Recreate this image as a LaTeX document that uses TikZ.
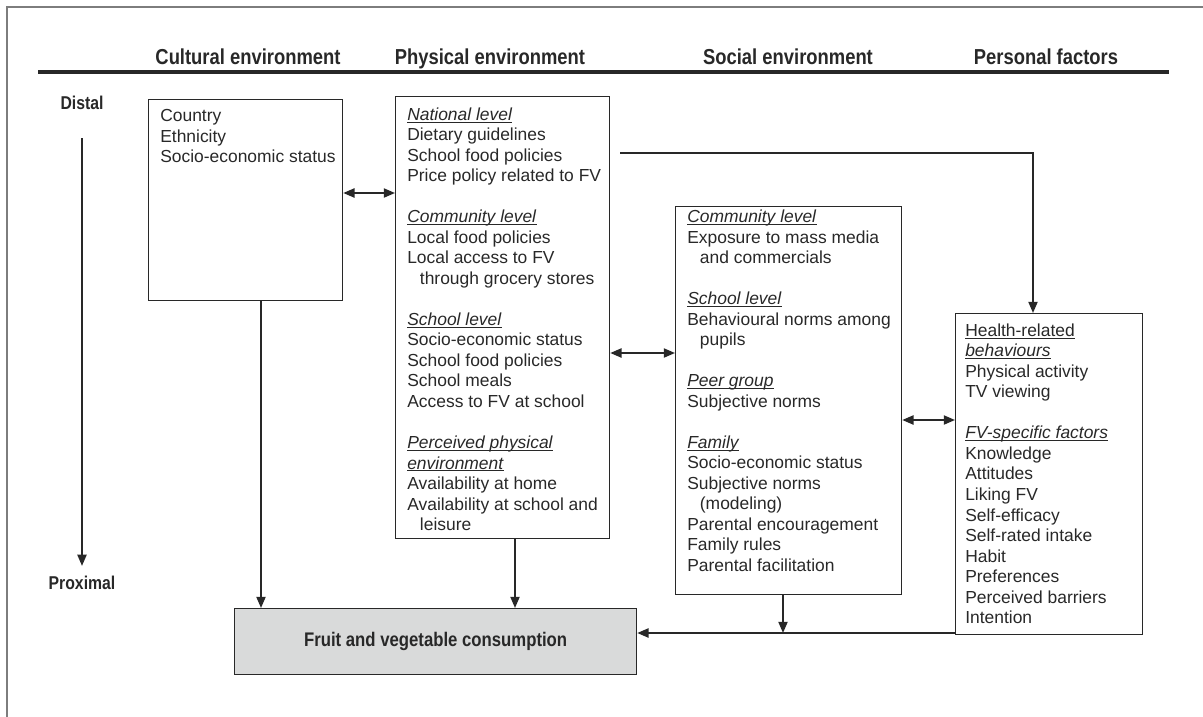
\documentclass[tikz,border=0pt]{standalone}
\usepackage{fontspec}
\setmainfont{Liberation Sans}
\newfontfamily\condfont[FakeStretch=0.85]{Liberation Sans}
\definecolor{inkGray}{RGB}{40, 40, 40}
\definecolor{frameGray}{RGB}{125, 125, 125}
\definecolor{outcomeGray}{RGB}{217, 218, 218}
\usetikzlibrary{arrows.meta,positioning,calc}
\newsavebox\lvlbox
\newcommand{\ulbar}[1]{\sbox\lvlbox{#1}\rlap{\rule[-1.6pt]{\wd\lvlbox}{0.6pt}}\usebox\lvlbox}
\newcommand{\lvl}[1]{\ulbar{\textit{#1}}}

\begin{document}
\begin{tikzpicture}[
        heading/.style={font=\condfont\bfseries\fontsize{15.4}{18}\selectfont,text=inkGray,inner sep=0pt,anchor=base},
        axislabel/.style={font=\condfont\bfseries\fontsize{13.2}{15}\selectfont,text=inkGray,inner sep=0pt},
        factorbox/.style={draw=inkGray,line width=0.9pt,anchor=north west,inner sep=0pt},
        factortext/.style={anchor=north west,align=left,inner sep=0pt,text=inkGray,
                        font=\fontsize{12.4}{14.6}\selectfont},
        link/.style={draw=inkGray,line width=1.3pt,-{Triangle[length=8pt,width=6.5pt]}},
        duallink/.style={draw=inkGray,line width=1.3pt,
                        {Triangle[length=8pt,width=6.5pt]}-{Triangle[length=8pt,width=6.5pt]}}
    ]
        \useasboundingbox (0,0) rectangle (30.075,-17.925);
        \draw[frameGray,line width=0.8pt] (0.175,-17.925) |- (30.075,-0.175);
        \draw[inkGray,line width=2.2pt] (0.95,-1.8) -- (29.22,-1.8);

        \node[heading] (culturalHead) at (6.2,-1.62) {Cultural environment};
        \node[heading] (physicalHead) at (12.25,-1.62) {Physical environment};
        \node[heading] (socialHead) at (19.7,-1.62) {Social environment};
        \node[heading] (personalHead) at (26.15,-1.62) {Personal factors};

        \node[axislabel] (distal) at (2.05,-2.575) {Distal};
        \node[axislabel] (proximal) at (2.05,-14.575) {Proximal};
        \draw[link,shorten <=0.7cm,shorten >=0.25cm] (distal) -- (proximal);

        \node[factorbox,minimum width=4.85cm,minimum height=5.025cm] (cultural) at (3.7,-2.475) {};
        \node[factortext] (culturalText) at ([shift={(0.3,-0.26)}]cultural.north west) {
            Country\\Ethnicity\\Socio-economic status
        };

        \node[factorbox,minimum width=5.35cm,minimum height=11.05cm] (physical) at (9.875,-2.4) {};
        \node[factortext] (physicalText) at ([shift={(0.3,-0.28)}]physical.north west) {
            \lvl{National level}\\Dietary guidelines\\School food policies\\Price policy related to FV\\[14.6pt]
            \lvl{Community level}\\Local food policies\\Local access to FV\\\hspace*{9pt}through grocery stores\\[14.6pt]
            \lvl{School level}\\Socio-economic status\\School food policies\\School meals\\Access to FV at school\\[14.6pt]
            \lvl{Perceived physical}\\\lvl{environment}\\Availability at home\\Availability at school and\\\hspace*{9pt}leisure
        };

        \node[factorbox,minimum width=5.65cm,minimum height=9.7cm] (social) at (16.875,-5.15) {};
        \node[factortext] (socialText) at ([shift={(0.3,-0.09)}]social.north west) {
            \lvl{Community level}\\Exposure to mass media\\\hspace*{9pt}and commercials\\[14.6pt]
            \lvl{School level}\\Behavioural norms among\\\hspace*{9pt}pupils\\[14.6pt]
            \lvl{Peer group}\\Subjective norms\\[14.6pt]
            \lvl{Family}\\Socio-economic status\\Subjective norms\\\hspace*{9pt}(modeling)\\Parental encouragement\\Family rules\\Parental facilitation
        };

        \node[factorbox,minimum width=4.675cm,minimum height=8.025cm] (personal) at (23.875,-7.825) {};
        \node[factortext] (personalText) at ([shift={(0.25,-0.26)}]personal.north west) {
            \ulbar{Health-related}\\\lvl{behaviours}\\Physical activity\\TV viewing\\[14.6pt]
            \lvl{FV-specific factors}\\Knowledge\\Attitudes\\Liking FV\\Self-efficacy\\Self-rated intake\\Habit\\Preferences\\Perceived barriers\\Intention
        };

        \node[factorbox,fill=outcomeGray,minimum width=10.05cm,minimum height=1.65cm,text=inkGray,
              font=\condfont\bfseries\fontsize{14}{16}\selectfont] (consumption) at (5.85,-15.2) {Fruit and vegetable consumption};

        \draw[duallink] (cultural.east |- 0,-4.825) -- (physical.west |- 0,-4.825);
        \draw[duallink] (physical.east |- 0,-8.825) -- (social.west |- 0,-8.825);
        \draw[duallink] (social.east |- 0,-10.5) -- (personal.west |- 0,-10.5);
        \draw[link] ($(physical.east |- 0,-3.825)+(0.25,0)$) -| (personal.north -| 25.825,0);

        \draw[link] (cultural.south -| 6.525,0) -- (consumption.north -| 6.525,0);
        \draw[link] (physical.south -| 12.875,0) -- (consumption.north -| 12.875,0);
        \draw[link] (personal.west |- 0,-15.825) -- (consumption.east |- 0,-15.825);
        \coordinate (merge) at (19.575,-15.825);
        \draw[link] (social.south -| merge) -- (merge);
    \end{tikzpicture}
\end{document}
